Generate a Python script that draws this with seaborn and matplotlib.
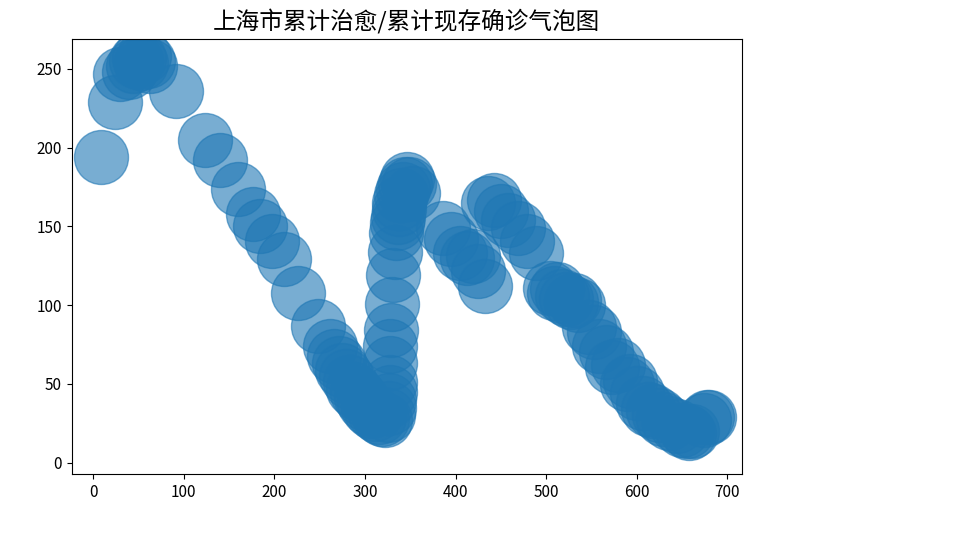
import matplotlib
matplotlib.use("Agg")
import matplotlib.pyplot as plt
import seaborn as sns
import pandas as pd

# cumulative cured (x) vs currently existing confirmed (y), Shanghai
cured = [9, 24, 29, 40, 44, 47, 50, 53, 56, 60, 63, 91,
         123, 140, 160, 176, 184, 197, 210, 226, 248, 261,
         266, 271, 275, 279, 283, 287, 291, 295, 299, 303, 307, 311, 315, 319, 322,
         325, 326, 326, 327, 327, 328, 328, 329, 330, 331, 333,
         334, 335, 336, 337, 338, 340, 342, 344, 346, 349, 353,
         386, 395, 405, 412, 419, 425, 432,
         436, 442, 450, 458, 469, 479, 489,
         504, 508, 512, 517, 522, 527, 531, 535, 547, 553, 558, 566, 573, 579, 589, 592,
         600, 607, 612, 618, 624, 629, 636, 644, 650, 655, 658, 661, 674, 677, 680]
existing = [194, 229, 247, 248, 252, 255, 257, 254, 258, 255, 252, 236,
            205, 192, 174, 158, 150, 141, 129, 108, 87, 74,
            68, 63, 59, 55, 51, 47, 44, 41, 38, 35, 33, 31, 29, 28, 27,
            30, 35, 40, 45, 51, 63, 74, 84, 101, 119, 134,
            146, 152, 156, 161, 165, 170, 174, 177, 180, 177, 171,
            149, 142, 133, 130, 131, 122, 112,
            165, 167, 160, 154, 149, 141, 133,
            111, 108, 110, 106, 104, 102, 103, 100, 86, 83, 74, 70, 61, 62, 50, 52,
            44, 38, 34, 33, 30, 28, 25, 23, 21, 20, 19, 20, 27, 29, 29]

df = pd.DataFrame({"cured": cured, "existing": existing})

plt.rcParams["font.family"] = ["Noto Sans CJK SC", "DejaVu Sans"]
plt.rcParams["axes.unicode_minus"] = False

fig = plt.figure(figsize=(9.57, 5.5), dpi=100)
ax = fig.add_axes([0.0749, 0.1376, 0.7004, 0.7915])

sns.scatterplot(data=df, x="cured", y="existing", s=1512, alpha=0.6,
                color="#1f77b4", edgecolor="face", linewidth=1, ax=ax)

ax.set_xlim(-23.8, 716)
ax.set_ylim(-7.4, 269)
ax.set_xticks([0, 100, 200, 300, 400, 500, 600, 700])
ax.set_yticks([0, 50, 100, 150, 200, 250])
ax.set_xlabel("")
ax.set_ylabel("")
ax.tick_params(labelsize=11)
ax.set_title("上海市累计治愈/累计现存确诊气泡图", fontsize=17, pad=7)

fig.savefig("out.png", dpi=100)
